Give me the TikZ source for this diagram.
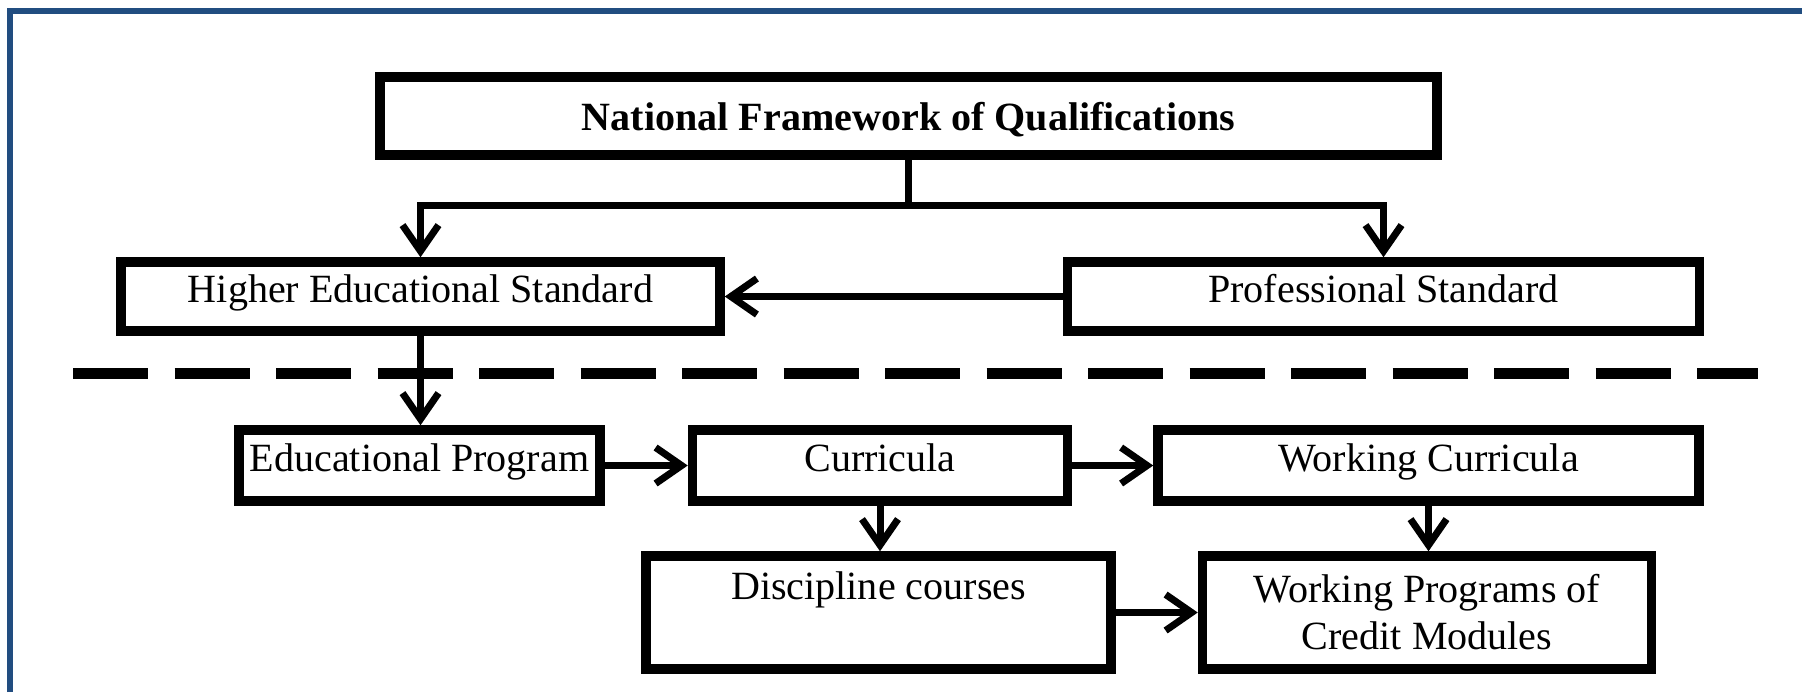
\documentclass[tikz,border=0pt]{standalone}
\usepackage{fontspec}
\setmainfont{Liberation Serif}
\usepackage{tikz}
\usetikzlibrary{arrows.meta,positioning}
\definecolor{marco}{RGB}{33,77,128}
\tikzset{
    bloque/.style={rectangle,draw,line width=0.095cm,inner sep=0pt,node font=\fontsize{11.4}{13.4}\selectfont},
    titulo/.style={bloque,font=\bfseries},
    flecha/.style={draw,line width=0.07cm,-{Straight Barb[length=0.26cm,width=0.36cm]}},
    corte/.style={draw,line width=0.11cm,dash pattern=on 0.75cm off 0.265cm},
}

\begin{document}
\begin{tikzpicture}
    \useasboundingbox (0,0) rectangle (18.02,-6.92);
    \draw [marco,line width=0.06cm] (0.10,-6.92) -- (0.10,-0.11) -- (18.02,-0.11);
    \node [titulo,minimum width=10.57cm,text height=0.53cm,text depth=0.25cm] (nfq) at (9.085,-1.16) {National Framework of Qualifications};
    \node [bloque,minimum width=5.99cm,text height=0.40cm,text depth=0.29cm] (hes) at (4.205,-2.965) {Higher Educational Standard};
    \node [bloque,minimum width=6.32cm,text height=0.40cm,text depth=0.29cm,right=3.38cm of hes] (ps) {Professional Standard};
    \node [bloque,minimum width=3.61cm,text height=0.41cm,text depth=0.30cm] (ep) at (4.195,-4.655) {Educational Program};
    \node [bloque,minimum width=3.75cm,text height=0.41cm,text depth=0.30cm,right=0.83cm of ep] (cur) {Curricula};
    \node [bloque,minimum width=5.41cm,text height=0.41cm,text depth=0.30cm,right=0.81cm of cur] (wc) {Working Curricula};
    \node [bloque,minimum width=4.65cm,text height=0.43cm,text depth=0.70cm] (dc) at (8.785,-6.125) {Discipline courses};
    \node [bloque,minimum width=4.49cm,minimum height=1.13cm,align=center,right=0.82cm of dc] (wpcm) {Working Programs of\\Credit Modules};
    \coordinate [below=0.46cm of nfq] (rama);
    \coordinate (corteizq) at (0.73,-3.735);
    \coordinate (corteder) at (17.58,-3.735);
    \path [corte] (corteizq) -- (corteder);
    \path [flecha] (nfq.south) -- (rama) -| (hes);
    \path [flecha] (rama) -| (ps);
    \path [flecha] (ps) -- (hes);
    \path [flecha] (hes.south) -- (hes.south |- ep.north);
    \path [flecha] (ep) -- (cur);
    \path [flecha] (cur) -- (wc);
    \path [flecha] (cur.south) -- (cur.south |- dc.north);
    \path [flecha] (wc.south) -- (wc.south |- wpcm.north);
    \path [flecha] (dc) -- (wpcm);
\end{tikzpicture}
\end{document}
